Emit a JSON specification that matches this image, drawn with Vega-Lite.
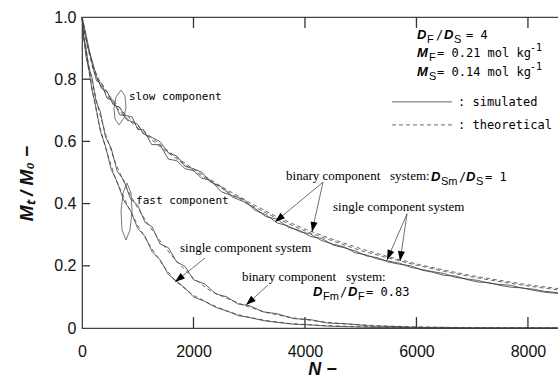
{
  "$schema": "https://vega.github.io/schema/vega-lite/v6.json",
  "width": 480,
  "height": 311,
  "autosize": {"type": "none"},
  "padding": {"left": 82, "top": 17, "right": 0, "bottom": 48},
  "background": "white",
  "config": {"view": {"stroke": "#444", "strokeWidth": 1.2}, "axis": {"grid": false}},
  "datasets": {
    "curves": [
      {"s":"a","t":"theoretical","x":0,"y":1.0},{"s":"a","t":"theoretical","x":50,"y":0.95},{"s":"a","t":"theoretical","x":100,"y":0.905},{"s":"a","t":"theoretical","x":200,"y":0.83},{"s":"a","t":"theoretical","x":300,"y":0.79},{"s":"a","t":"theoretical","x":500,"y":0.735},{"s":"a","t":"theoretical","x":750,"y":0.683},{"s":"a","t":"theoretical","x":1000,"y":0.643},{"s":"a","t":"theoretical","x":1250,"y":0.605},{"s":"a","t":"theoretical","x":1500,"y":0.569},{"s":"a","t":"theoretical","x":1750,"y":0.537},{"s":"a","t":"theoretical","x":2000,"y":0.506},{"s":"a","t":"theoretical","x":2500,"y":0.45},{"s":"a","t":"theoretical","x":3000,"y":0.398},{"s":"a","t":"theoretical","x":3500,"y":0.352},{"s":"a","t":"theoretical","x":4000,"y":0.312},{"s":"a","t":"theoretical","x":4500,"y":0.28},{"s":"a","t":"theoretical","x":5000,"y":0.249},{"s":"a","t":"theoretical","x":5500,"y":0.225},{"s":"a","t":"theoretical","x":6000,"y":0.202},{"s":"a","t":"theoretical","x":6500,"y":0.182},{"s":"a","t":"theoretical","x":7000,"y":0.164},{"s":"a","t":"theoretical","x":7500,"y":0.149},{"s":"a","t":"theoretical","x":8000,"y":0.135},{"s":"a","t":"theoretical","x":8611,"y":0.121},
      {"s":"b","t":"theoretical","x":0,"y":1.0},{"s":"b","t":"theoretical","x":50,"y":0.955},{"s":"b","t":"theoretical","x":100,"y":0.91},{"s":"b","t":"theoretical","x":200,"y":0.84},{"s":"b","t":"theoretical","x":300,"y":0.8},{"s":"b","t":"theoretical","x":500,"y":0.745},{"s":"b","t":"theoretical","x":750,"y":0.692},{"s":"b","t":"theoretical","x":1000,"y":0.65},{"s":"b","t":"theoretical","x":1250,"y":0.612},{"s":"b","t":"theoretical","x":1500,"y":0.575},{"s":"b","t":"theoretical","x":1750,"y":0.542},{"s":"b","t":"theoretical","x":2000,"y":0.511},{"s":"b","t":"theoretical","x":2500,"y":0.455},{"s":"b","t":"theoretical","x":3000,"y":0.404},{"s":"b","t":"theoretical","x":3500,"y":0.357},{"s":"b","t":"theoretical","x":4000,"y":0.318},{"s":"b","t":"theoretical","x":4500,"y":0.285},{"s":"b","t":"theoretical","x":5000,"y":0.255},{"s":"b","t":"theoretical","x":5500,"y":0.229},{"s":"b","t":"theoretical","x":6000,"y":0.206},{"s":"b","t":"theoretical","x":6500,"y":0.186},{"s":"b","t":"theoretical","x":7000,"y":0.168},{"s":"b","t":"theoretical","x":7500,"y":0.153},{"s":"b","t":"theoretical","x":8000,"y":0.139},{"s":"b","t":"theoretical","x":8611,"y":0.125},
      {"s":"c","t":"simulated","x":0,"y":1.0},{"s":"c","t":"simulated","x":40,"y":0.97},{"s":"c","t":"simulated","x":100,"y":0.92},{"s":"c","t":"simulated","x":180,"y":0.85},{"s":"c","t":"simulated","x":260,"y":0.795},{"s":"c","t":"simulated","x":350,"y":0.787},{"s":"c","t":"simulated","x":450,"y":0.738},{"s":"c","t":"simulated","x":560,"y":0.732},{"s":"c","t":"simulated","x":680,"y":0.685},{"s":"c","t":"simulated","x":800,"y":0.683},{"s":"c","t":"simulated","x":900,"y":0.679},{"s":"c","t":"simulated","x":1000,"y":0.638},{"s":"c","t":"simulated","x":1100,"y":0.638},{"s":"c","t":"simulated","x":1250,"y":0.59},{"s":"c","t":"simulated","x":1400,"y":0.589},{"s":"c","t":"simulated","x":1550,"y":0.543},{"s":"c","t":"simulated","x":1700,"y":0.538},{"s":"c","t":"simulated","x":1850,"y":0.512},{"s":"c","t":"simulated","x":2000,"y":0.506},{"s":"c","t":"simulated","x":2150,"y":0.481},{"s":"c","t":"simulated","x":2300,"y":0.476},{"s":"c","t":"simulated","x":2500,"y":0.438},{"s":"c","t":"simulated","x":2700,"y":0.425},{"s":"c","t":"simulated","x":2900,"y":0.414},{"s":"c","t":"simulated","x":3100,"y":0.379},{"s":"c","t":"simulated","x":3300,"y":0.364},{"s":"c","t":"simulated","x":3500,"y":0.338},{"s":"c","t":"simulated","x":3700,"y":0.328},{"s":"c","t":"simulated","x":3900,"y":0.31},{"s":"c","t":"simulated","x":4100,"y":0.302},{"s":"c","t":"simulated","x":4300,"y":0.281},{"s":"c","t":"simulated","x":4500,"y":0.27},{"s":"c","t":"simulated","x":4700,"y":0.261},{"s":"c","t":"simulated","x":4900,"y":0.242},{"s":"c","t":"simulated","x":5100,"y":0.235},{"s":"c","t":"simulated","x":5300,"y":0.222},{"s":"c","t":"simulated","x":5500,"y":0.215},{"s":"c","t":"simulated","x":5700,"y":0.208},{"s":"c","t":"simulated","x":5900,"y":0.195},{"s":"c","t":"simulated","x":6100,"y":0.188},{"s":"c","t":"simulated","x":6300,"y":0.181},{"s":"c","t":"simulated","x":6500,"y":0.175},{"s":"c","t":"simulated","x":6700,"y":0.163},{"s":"c","t":"simulated","x":6900,"y":0.158},{"s":"c","t":"simulated","x":7100,"y":0.153},{"s":"c","t":"simulated","x":7300,"y":0.144},{"s":"c","t":"simulated","x":7500,"y":0.14},{"s":"c","t":"simulated","x":7700,"y":0.137},{"s":"c","t":"simulated","x":7900,"y":0.128},{"s":"c","t":"simulated","x":8100,"y":0.125},{"s":"c","t":"simulated","x":8300,"y":0.118},{"s":"c","t":"simulated","x":8611,"y":0.112},
      {"s":"d","t":"simulated","x":0,"y":1.0},{"s":"d","t":"simulated","x":40,"y":0.955},{"s":"d","t":"simulated","x":100,"y":0.905},{"s":"d","t":"simulated","x":180,"y":0.86},{"s":"d","t":"simulated","x":260,"y":0.81},{"s":"d","t":"simulated","x":350,"y":0.77},{"s":"d","t":"simulated","x":450,"y":0.761},{"s":"d","t":"simulated","x":560,"y":0.718},{"s":"d","t":"simulated","x":680,"y":0.709},{"s":"d","t":"simulated","x":800,"y":0.669},{"s":"d","t":"simulated","x":900,"y":0.663},{"s":"d","t":"simulated","x":1000,"y":0.655},{"s":"d","t":"simulated","x":1100,"y":0.624},{"s":"d","t":"simulated","x":1250,"y":0.613},{"s":"d","t":"simulated","x":1400,"y":0.599},{"s":"d","t":"simulated","x":1550,"y":0.563},{"s":"d","t":"simulated","x":1700,"y":0.553},{"s":"d","t":"simulated","x":1850,"y":0.52},{"s":"d","t":"simulated","x":2000,"y":0.512},{"s":"d","t":"simulated","x":2150,"y":0.501},{"s":"d","t":"simulated","x":2300,"y":0.47},{"s":"d","t":"simulated","x":2500,"y":0.454},{"s":"d","t":"simulated","x":2700,"y":0.421},{"s":"d","t":"simulated","x":2900,"y":0.406},{"s":"d","t":"simulated","x":3100,"y":0.385},{"s":"d","t":"simulated","x":3300,"y":0.358},{"s":"d","t":"simulated","x":3500,"y":0.35},{"s":"d","t":"simulated","x":3700,"y":0.324},{"s":"d","t":"simulated","x":3900,"y":0.314},{"s":"d","t":"simulated","x":4100,"y":0.294},{"s":"d","t":"simulated","x":4300,"y":0.288},{"s":"d","t":"simulated","x":4500,"y":0.267},{"s":"d","t":"simulated","x":4700,"y":0.258},{"s":"d","t":"simulated","x":4900,"y":0.248},{"s":"d","t":"simulated","x":5100,"y":0.232},{"s":"d","t":"simulated","x":5300,"y":0.226},{"s":"d","t":"simulated","x":5500,"y":0.212},{"s":"d","t":"simulated","x":5700,"y":0.205},{"s":"d","t":"simulated","x":5900,"y":0.2},{"s":"d","t":"simulated","x":6100,"y":0.186},{"s":"d","t":"simulated","x":6300,"y":0.179},{"s":"d","t":"simulated","x":6500,"y":0.169},{"s":"d","t":"simulated","x":6700,"y":0.167},{"s":"d","t":"simulated","x":6900,"y":0.156},{"s":"d","t":"simulated","x":7100,"y":0.148},{"s":"d","t":"simulated","x":7300,"y":0.146},{"s":"d","t":"simulated","x":7500,"y":0.137},{"s":"d","t":"simulated","x":7700,"y":0.131},{"s":"d","t":"simulated","x":7900,"y":0.129},{"s":"d","t":"simulated","x":8100,"y":0.121},{"s":"d","t":"simulated","x":8300,"y":0.115},{"s":"d","t":"simulated","x":8611,"y":0.11},
      {"s":"e","t":"theoretical","x":0,"y":1.0},{"s":"e","t":"theoretical","x":25,"y":0.94},{"s":"e","t":"theoretical","x":50,"y":0.91},{"s":"e","t":"theoretical","x":100,"y":0.85},{"s":"e","t":"theoretical","x":150,"y":0.8},{"s":"e","t":"theoretical","x":200,"y":0.75},{"s":"e","t":"theoretical","x":300,"y":0.66},{"s":"e","t":"theoretical","x":430,"y":0.575},{"s":"e","t":"theoretical","x":600,"y":0.48},{"s":"e","t":"theoretical","x":800,"y":0.4},{"s":"e","t":"theoretical","x":1000,"y":0.33},{"s":"e","t":"theoretical","x":1200,"y":0.27},{"s":"e","t":"theoretical","x":1400,"y":0.215},{"s":"e","t":"theoretical","x":1668,"y":0.152},{"s":"e","t":"theoretical","x":2000,"y":0.105},{"s":"e","t":"theoretical","x":2314,"y":0.076},{"s":"e","t":"theoretical","x":2600,"y":0.054},{"s":"e","t":"theoretical","x":2924,"y":0.037},{"s":"e","t":"theoretical","x":3300,"y":0.024},{"s":"e","t":"theoretical","x":3700,"y":0.015},{"s":"e","t":"theoretical","x":4200,"y":0.009},{"s":"e","t":"theoretical","x":4800,"y":0.005},{"s":"e","t":"theoretical","x":5500,"y":0.002},{"s":"e","t":"theoretical","x":6500,"y":0.001},{"s":"e","t":"theoretical","x":7500,"y":0.0},{"s":"e","t":"theoretical","x":8611,"y":0.0},
      {"s":"f","t":"theoretical","x":0,"y":1.0},{"s":"f","t":"theoretical","x":25,"y":0.945},{"s":"f","t":"theoretical","x":50,"y":0.915},{"s":"f","t":"theoretical","x":100,"y":0.865},{"s":"f","t":"theoretical","x":150,"y":0.82},{"s":"f","t":"theoretical","x":200,"y":0.78},{"s":"f","t":"theoretical","x":300,"y":0.7},{"s":"f","t":"theoretical","x":430,"y":0.62},{"s":"f","t":"theoretical","x":600,"y":0.53},{"s":"f","t":"theoretical","x":800,"y":0.45},{"s":"f","t":"theoretical","x":1000,"y":0.385},{"s":"f","t":"theoretical","x":1200,"y":0.33},{"s":"f","t":"theoretical","x":1400,"y":0.28},{"s":"f","t":"theoretical","x":1668,"y":0.22},{"s":"f","t":"theoretical","x":2000,"y":0.16},{"s":"f","t":"theoretical","x":2314,"y":0.118},{"s":"f","t":"theoretical","x":2600,"y":0.095},{"s":"f","t":"theoretical","x":2924,"y":0.072},{"s":"f","t":"theoretical","x":3300,"y":0.05},{"s":"f","t":"theoretical","x":3700,"y":0.035},{"s":"f","t":"theoretical","x":4200,"y":0.022},{"s":"f","t":"theoretical","x":4800,"y":0.012},{"s":"f","t":"theoretical","x":5500,"y":0.006},{"s":"f","t":"theoretical","x":6500,"y":0.002},{"s":"f","t":"theoretical","x":7500,"y":0.001},{"s":"f","t":"theoretical","x":8611,"y":0.0},
      {"s":"g","t":"simulated","x":0,"y":1.0},{"s":"g","t":"simulated","x":30,"y":0.94},{"s":"g","t":"simulated","x":70,"y":0.875},{"s":"g","t":"simulated","x":120,"y":0.835},{"s":"g","t":"simulated","x":180,"y":0.765},{"s":"g","t":"simulated","x":250,"y":0.71},{"s":"g","t":"simulated","x":330,"y":0.632},{"s":"g","t":"simulated","x":420,"y":0.585},{"s":"g","t":"simulated","x":520,"y":0.512},{"s":"g","t":"simulated","x":630,"y":0.47},{"s":"g","t":"simulated","x":750,"y":0.41},{"s":"g","t":"simulated","x":870,"y":0.378},{"s":"g","t":"simulated","x":1000,"y":0.32},{"s":"g","t":"simulated","x":1130,"y":0.295},{"s":"g","t":"simulated","x":1260,"y":0.245},{"s":"g","t":"simulated","x":1400,"y":0.22},{"s":"g","t":"simulated","x":1550,"y":0.172},{"s":"g","t":"simulated","x":1700,"y":0.15},{"s":"g","t":"simulated","x":1850,"y":0.128},{"s":"g","t":"simulated","x":2000,"y":0.1},{"s":"g","t":"simulated","x":2200,"y":0.086},{"s":"g","t":"simulated","x":2400,"y":0.066},{"s":"g","t":"simulated","x":2600,"y":0.055},{"s":"g","t":"simulated","x":2800,"y":0.04},{"s":"g","t":"simulated","x":3000,"y":0.034},{"s":"g","t":"simulated","x":3250,"y":0.024},{"s":"g","t":"simulated","x":3500,"y":0.018},{"s":"g","t":"simulated","x":3800,"y":0.012},{"s":"g","t":"simulated","x":4100,"y":0.01},{"s":"g","t":"simulated","x":4400,"y":0.006},{"s":"g","t":"simulated","x":4800,"y":0.004},{"s":"g","t":"simulated","x":5200,"y":0.002},{"s":"g","t":"simulated","x":5600,"y":0.002},{"s":"g","t":"simulated","x":6000,"y":0.001},{"s":"g","t":"simulated","x":6500,"y":0.0},{"s":"g","t":"simulated","x":7500,"y":0.0},{"s":"g","t":"simulated","x":8611,"y":0.0},
      {"s":"h","t":"simulated","x":0,"y":1.0},{"s":"h","t":"simulated","x":30,"y":0.935},{"s":"h","t":"simulated","x":70,"y":0.905},{"s":"h","t":"simulated","x":120,"y":0.838},{"s":"h","t":"simulated","x":180,"y":0.805},{"s":"h","t":"simulated","x":250,"y":0.73},{"s":"h","t":"simulated","x":330,"y":0.695},{"s":"h","t":"simulated","x":420,"y":0.615},{"s":"h","t":"simulated","x":520,"y":0.58},{"s":"h","t":"simulated","x":630,"y":0.505},{"s":"h","t":"simulated","x":750,"y":0.475},{"s":"h","t":"simulated","x":870,"y":0.415},{"s":"h","t":"simulated","x":1000,"y":0.395},{"s":"h","t":"simulated","x":1130,"y":0.34},{"s":"h","t":"simulated","x":1260,"y":0.325},{"s":"h","t":"simulated","x":1400,"y":0.27},{"s":"h","t":"simulated","x":1550,"y":0.258},{"s":"h","t":"simulated","x":1700,"y":0.212},{"s":"h","t":"simulated","x":1850,"y":0.198},{"s":"h","t":"simulated","x":2000,"y":0.155},{"s":"h","t":"simulated","x":2200,"y":0.142},{"s":"h","t":"simulated","x":2400,"y":0.11},{"s":"h","t":"simulated","x":2600,"y":0.1},{"s":"h","t":"simulated","x":2800,"y":0.077},{"s":"h","t":"simulated","x":3000,"y":0.072},{"s":"h","t":"simulated","x":3250,"y":0.052},{"s":"h","t":"simulated","x":3500,"y":0.046},{"s":"h","t":"simulated","x":3800,"y":0.03},{"s":"h","t":"simulated","x":4100,"y":0.027},{"s":"h","t":"simulated","x":4400,"y":0.016},{"s":"h","t":"simulated","x":4800,"y":0.013},{"s":"h","t":"simulated","x":5200,"y":0.006},{"s":"h","t":"simulated","x":5600,"y":0.005},{"s":"h","t":"simulated","x":6000,"y":0.002},{"s":"h","t":"simulated","x":6500,"y":0.002},{"s":"h","t":"simulated","x":7000,"y":0.0},{"s":"h","t":"simulated","x":8611,"y":0.0}
    ],
    "loops": [
      {"k":"slow","i":0,"x":700,"y":0.765},{"k":"slow","i":1,"x":771,"y":0.746},{"k":"slow","i":2,"x":789,"y":0.711},{"k":"slow","i":3,"x":753,"y":0.675},{"k":"slow","i":4,"x":664,"y":0.653},{"k":"slow","i":5,"x":592,"y":0.672},{"k":"slow","i":6,"x":574,"y":0.707},{"k":"slow","i":7,"x":610,"y":0.743},{"k":"slow","i":8,"x":700,"y":0.765},
      {"k":"fast","i":0,"x":807,"y":0.466},{"k":"fast","i":1,"x":879,"y":0.434},{"k":"fast","i":2,"x":897,"y":0.376},{"k":"fast","i":3,"x":861,"y":0.315},{"k":"fast","i":4,"x":789,"y":0.283},{"k":"fast","i":5,"x":718,"y":0.315},{"k":"fast","i":6,"x":700,"y":0.376},{"k":"fast","i":7,"x":736,"y":0.434},{"k":"fast","i":8,"x":807,"y":0.466}
    ],
    "xticks": [{"x":2000},{"x":4000},{"x":6000},{"x":8000}],
    "yticks": [{"y":0.2},{"y":0.4},{"y":0.6},{"y":0.8}],
    "arrows": [
      {"x1":4324,"y1":0.469,"x2":3462,"y2":0.341,"angle":230},
      {"x1":4324,"y1":0.469,"x2":4126,"y2":0.309,"angle":192},
      {"x1":5831,"y1":0.367,"x2":5472,"y2":0.219,"angle":203},
      {"x1":5831,"y1":0.367,"x2":5705,"y2":0.215,"angle":188},
      {"x1":2207,"y1":0.225,"x2":1668,"y2":0.148,"angle":231},
      {"x1":3337,"y1":0.138,"x2":2942,"y2":0.074,"angle":228}
    ],
    "legendSolid": [{"x1":5561,"x2":6638,"y":0.727}],
    "legendDash": [{"x1":5561,"x2":6638,"y":0.653}],
    "serif": [
      {"x":3660,"y":0.489,"text":"binary component\u00a0\u00a0 system:"},
      {"x":4503,"y":0.389,"text":"single component system"},
      {"x":1758,"y":0.257,"text":"single component system"},
      {"x":2870,"y":0.164,"text":"binary component\u00a0\u00a0 system:"}
    ],
    "monoS": [
      {"x":843,"y":0.743,"text":"slow component"},
      {"x":969,"y":0.408,"text":"fast component"}
    ],
    "mono": [
      {"x":6351,"y":0.942,"text":"/"},
      {"x":6889,"y":0.942,"text":"= 4"},
      {"x":6369,"y":0.884,"text":"= 0.21 mol kg"},
      {"x":6369,"y":0.823,"text":"= 0.14 mol kg"},
      {"x":6745,"y":0.727,"text":": simulated"},
      {"x":6745,"y":0.653,"text":": theoretical"},
      {"x":6764,"y":0.486,"text":"/"},
      {"x":7230,"y":0.486,"text":"= 1"},
      {"x":4629,"y":0.116,"text":"/"},
      {"x":5095,"y":0.116,"text":"= 0.83"}
    ],
    "ital": [
      {"x":6010,"y":0.942,"text":"D"},
      {"x":6494,"y":0.942,"text":"D"},
      {"x":6010,"y":0.884,"text":"M"},
      {"x":6010,"y":0.823,"text":"M"},
      {"x":6261,"y":0.486,"text":"D"},
      {"x":6889,"y":0.486,"text":"D"},
      {"x":4144,"y":0.116,"text":"D"},
      {"x":4772,"y":0.116,"text":"D"}
    ],
    "sub": [
      {"x":6189,"y":0.942,"text":"F"},
      {"x":6674,"y":0.942,"text":"S"},
      {"x":6225,"y":0.884,"text":"F"},
      {"x":6225,"y":0.823,"text":"S"},
      {"x":6440,"y":0.486,"text":"Sm"},
      {"x":7068,"y":0.486,"text":"S"},
      {"x":4324,"y":0.116,"text":"Fm"},
      {"x":4951,"y":0.116,"text":"F"}
    ],
    "sup": [
      {"x":8037,"y":0.884,"text":"-1"},
      {"x":8037,"y":0.823,"text":"-1"}
    ]
  },
  "layer": [
    {
      "data": {"name": "curves"},
      "transform": [{"filter": "datum.t == 'simulated'"}],
      "mark": {"type": "line", "strokeWidth": 0.8, "color": "#3a3a3a"},
      "encoding": {
        "x": {"field": "x", "type": "quantitative", "scale": {"domain": [0, 8611], "nice": false, "zero": false},
          "axis": {"orient": "bottom", "values": [0, 2000, 4000, 6000, 8000], "format": "d", "ticks": false, "domain": true, "domainColor": "#444",
            "labelFont": "Liberation Sans", "labelFontSize": 16, "labelColor": "#111", "labelPadding": 15, "labelFlush": false,
            "title": "N  \u2212", "titleFont": "Liberation Sans", "titleFontSize": 18, "titleFontStyle": "italic", "titleFontWeight": "bold", "titleColor": "#111", "titleY": 32, "titleBaseline": "top"}},
        "y": {"field": "y", "type": "quantitative", "scale": {"domain": [0, 1], "nice": false},
          "axis": {"orient": "left", "values": [0, 0.2, 0.4, 0.6, 0.8, 1.0], "labelExpr": "datum.value == 0 ? '0' : format(datum.value, '.1f')", "ticks": false, "domain": true, "domainColor": "#444",
            "labelFont": "Liberation Sans", "labelFontSize": 16, "labelColor": "#111", "labelPadding": 6, "labelFlush": false,
            "title": "M\u209c / M\u2080  \u2212", "titleFont": "Liberation Sans", "titleFontSize": 19, "titleFontStyle": "italic", "titleFontWeight": "bold", "titleColor": "#111", "titleX": -56, "titleY": 166, "titleAlign": "center", "titleBaseline": "middle", "titleAngle": -90}},
        "detail": {"field": "s"}
      }
    },
    {
      "data": {"name": "curves"},
      "transform": [{"filter": "datum.t == 'theoretical'"}],
      "mark": {"type": "line", "strokeWidth": 0.8, "color": "#444", "strokeDash": [4, 3]},
      "encoding": {
        "x": {"field": "x", "type": "quantitative"},
        "y": {"field": "y", "type": "quantitative"},
        "detail": {"field": "s"}
      }
    },
    {
      "data": {"name": "xticks"},
      "mark": {"type": "rule", "strokeWidth": 1.3, "color": "#333"},
      "encoding": {"x": {"field": "x", "type": "quantitative"}, "y": {"datum": 1}, "y2": {"datum": 0.965}}
    },
    {
      "data": {"name": "xticks"},
      "mark": {"type": "rule", "strokeWidth": 1.3, "color": "#333"},
      "encoding": {"x": {"field": "x", "type": "quantitative"}, "y": {"datum": 0}, "y2": {"datum": 0.035}}
    },
    {
      "data": {"name": "yticks"},
      "mark": {"type": "rule", "strokeWidth": 1.3, "color": "#333"},
      "encoding": {"y": {"field": "y", "type": "quantitative"}, "x": {"datum": 0}, "x2": {"datum": 144}}
    },
    {
      "data": {"name": "loops"},
      "mark": {"type": "line", "strokeWidth": 0.8, "color": "#555"},
      "encoding": {
        "x": {"field": "x", "type": "quantitative"},
        "y": {"field": "y", "type": "quantitative"},
        "detail": {"field": "k"},
        "order": {"field": "i", "type": "quantitative"}
      }
    },
    {
      "data": {"name": "arrows"},
      "mark": {"type": "rule", "strokeWidth": 0.7, "color": "#333"},
      "encoding": {
        "x": {"field": "x1", "type": "quantitative"},
        "y": {"field": "y1", "type": "quantitative"},
        "x2": {"field": "x2"},
        "y2": {"field": "y2"}
      }
    },
    {
      "data": {"name": "arrows"},
      "mark": {"type": "point", "shape": "M0,0L-0.7,2L0.7,2Z", "filled": true, "color": "#000", "opacity": 1, "size": 100},
      "encoding": {
        "x": {"field": "x2", "type": "quantitative"},
        "y": {"field": "y2", "type": "quantitative"},
        "angle": {"field": "angle", "type": "quantitative", "scale": null}
      }
    },
    {
      "data": {"name": "legendSolid"},
      "mark": {"type": "rule", "strokeWidth": 0.8, "color": "#444"},
      "encoding": {"x": {"field": "x1", "type": "quantitative"}, "x2": {"field": "x2"}, "y": {"field": "y", "type": "quantitative"}}
    },
    {
      "data": {"name": "legendDash"},
      "mark": {"type": "rule", "strokeWidth": 0.8, "color": "#444", "strokeDash": [4, 3]},
      "encoding": {"x": {"field": "x1", "type": "quantitative"}, "x2": {"field": "x2"}, "y": {"field": "y", "type": "quantitative"}}
    },
    {
      "data": {"name": "serif"},
      "mark": {"type": "text", "align": "left", "baseline": "middle", "font": "Liberation Serif", "fontSize": 13, "color": "#000"},
      "encoding": {"x": {"field": "x", "type": "quantitative"}, "y": {"field": "y", "type": "quantitative"}, "text": {"field": "text"}}
    },
    {
      "data": {"name": "monoS"},
      "mark": {"type": "text", "align": "left", "baseline": "middle", "font": "DejaVu Sans Mono", "fontSize": 11, "color": "#000"},
      "encoding": {"x": {"field": "x", "type": "quantitative"}, "y": {"field": "y", "type": "quantitative"}, "text": {"field": "text"}}
    },
    {
      "data": {"name": "mono"},
      "mark": {"type": "text", "align": "left", "baseline": "middle", "font": "DejaVu Sans Mono", "fontSize": 12, "color": "#000"},
      "encoding": {"x": {"field": "x", "type": "quantitative"}, "y": {"field": "y", "type": "quantitative"}, "text": {"field": "text"}}
    },
    {
      "data": {"name": "ital"},
      "mark": {"type": "text", "align": "left", "baseline": "middle", "font": "Liberation Sans", "fontSize": 13, "fontStyle": "italic", "fontWeight": "bold", "color": "#000"},
      "encoding": {"x": {"field": "x", "type": "quantitative"}, "y": {"field": "y", "type": "quantitative"}, "text": {"field": "text"}}
    },
    {
      "data": {"name": "sub"},
      "mark": {"type": "text", "align": "left", "baseline": "middle", "font": "Liberation Sans", "fontSize": 11, "dy": 5, "color": "#000"},
      "encoding": {"x": {"field": "x", "type": "quantitative"}, "y": {"field": "y", "type": "quantitative"}, "text": {"field": "text"}}
    },
    {
      "data": {"name": "sup"},
      "mark": {"type": "text", "align": "left", "baseline": "middle", "font": "DejaVu Sans Mono", "fontSize": 10, "dy": -5, "color": "#000"},
      "encoding": {"x": {"field": "x", "type": "quantitative"}, "y": {"field": "y", "type": "quantitative"}, "text": {"field": "text"}}
    }
  ]
}
